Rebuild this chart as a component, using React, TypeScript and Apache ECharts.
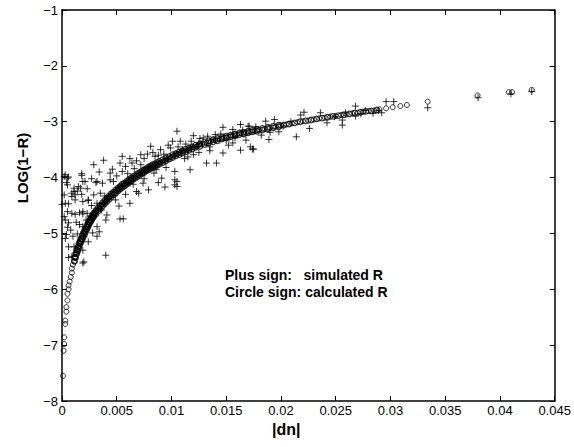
import React, { useEffect, useRef } from "react";
import * as echarts from "echarts";

const xTicks = { min: 0, max: 0.045, interval: 0.005 };
const yTicks = { min: -8, max: -1, interval: 1 };
const xLabel = "|dn|";
const yLabel = "LOG(1\u2212R)";
const noteLines = ["Plus sign:   simulated R", "Circle sign: calculated R"];

// calculated R (circles): [|dn|, LOG(1-R)]
const calculated: [number, number][] = [
  [0.0001, -7.55], [0.00015, -7.1], [0.0002, -6.98], [0.0002, -6.86], [0.0003, -6.56], [0.0003, -6.62],
  [0.0004, -6.4], [0.0004, -6.32], [0.0005, -6.2], [0.0005, -6.08], [0.0006, -6.0], [0.0006, -5.93],
  [0.0007, -5.86], [0.0008, -5.78], [0.0009, -5.7], [0.0009, -5.63], [0.001, -5.56], [0.0011, -5.5],
  [0.0012, -5.42], [0.0013, -5.36], [0.0014, -5.3], [0.0015, -5.24], [0.0016, -5.18], [0.0017, -5.14],
  [0.0018, -5.1], [0.0019, -5.05], [0.002, -5.0], [0.0021, -4.96], [0.0022, -4.92], [0.0023, -4.88],
  [0.0024, -4.84], [0.0025, -4.8], [0.0026, -4.77], [0.0027, -4.73], [0.0028, -4.7], [0.0029, -4.67],
  [0.003, -4.64], [0.0032, -4.59], [0.0034, -4.55], [0.0036, -4.5], [0.0038, -4.46], [0.004, -4.42],
  [0.0042, -4.38], [0.0044, -4.34], [0.0046, -4.3], [0.0048, -4.27], [0.005, -4.23], [0.0052, -4.2],
  [0.0054, -4.17], [0.0056, -4.14], [0.0058, -4.11], [0.006, -4.08], [0.0062, -4.05], [0.0064, -4.02],
  [0.0066, -4.0], [0.0068, -3.97], [0.007, -3.95], [0.0072, -3.92], [0.0074, -3.9], [0.0076, -3.87],
  [0.0078, -3.85], [0.008, -3.83], [0.0082, -3.81], [0.0084, -3.79], [0.0086, -3.77], [0.0088, -3.75],
  [0.009, -3.73], [0.0093, -3.7], [0.0096, -3.67], [0.0099, -3.64], [0.0102, -3.61], [0.0105, -3.58],
  [0.0108, -3.56], [0.0111, -3.53], [0.0114, -3.51], [0.0117, -3.48], [0.012, -3.46], [0.0124, -3.43],
  [0.0128, -3.4], [0.0132, -3.38], [0.0136, -3.35], [0.014, -3.33], [0.0144, -3.31], [0.0148, -3.29],
  [0.0152, -3.27], [0.0156, -3.25], [0.016, -3.23], [0.0164, -3.21], [0.0168, -3.2], [0.0172, -3.18],
  [0.0176, -3.16], [0.018, -3.15], [0.0185, -3.13], [0.019, -3.11], [0.0195, -3.09], [0.02, -3.07],
  [0.0205, -3.05], [0.021, -3.03], [0.0215, -3.01], [0.022, -2.99], [0.0225, -2.98], [0.023, -2.96],
  [0.0235, -2.94], [0.024, -2.93], [0.0245, -2.91], [0.025, -2.9], [0.0255, -2.88], [0.026, -2.87],
  [0.0265, -2.85], [0.027, -2.84], [0.0275, -2.82], [0.028, -2.81], [0.0285, -2.8], [0.029, -2.78],
  [0.0296, -2.76], [0.0302, -2.74], [0.0309, -2.72], [0.0315, -2.7], [0.0334, -2.64], [0.03795, -2.53],
  [0.0408, -2.47], [0.0411, -2.47], [0.0429, -2.43],
];

// calculated R, the dense part of the band (upper and lower edges)
const calculatedBand: [number, number][] = [
  [0.00115, -5.43], [0.00115, -5.5], [0.00125, -5.36], [0.00125, -5.43], [0.00135, -5.3], [0.00135, -5.36],
  [0.00145, -5.24], [0.00145, -5.31], [0.00155, -5.18], [0.00155, -5.25], [0.00165, -5.13], [0.00165, -5.19],
  [0.00175, -5.09], [0.00175, -5.15], [0.00185, -5.04], [0.00185, -5.11], [0.00195, -4.99], [0.00195, -5.06],
  [0.00205, -4.95], [0.00205, -5.02], [0.00215, -4.91], [0.00215, -4.97], [0.00225, -4.87], [0.00225, -4.93],
  [0.00235, -4.83], [0.00235, -4.89], [0.00245, -4.79], [0.00245, -4.85], [0.00255, -4.76], [0.00255, -4.81],
  [0.00265, -4.72], [0.00265, -4.78], [0.00275, -4.69], [0.00275, -4.74], [0.00285, -4.66], [0.00285, -4.71],
  [0.00295, -4.63], [0.00295, -4.68], [0.0031, -4.59], [0.0031, -4.65], [0.0033, -4.54], [0.0033, -4.6],
  [0.0035, -4.5], [0.0035, -4.56], [0.0037, -4.45], [0.0037, -4.51], [0.0039, -4.41], [0.0039, -4.47],
  [0.0041, -4.37], [0.0041, -4.43], [0.0043, -4.33], [0.0043, -4.39], [0.0045, -4.29], [0.0045, -4.35],
  [0.0047, -4.26], [0.0047, -4.31], [0.0049, -4.22], [0.0049, -4.28], [0.0051, -4.19], [0.0051, -4.24],
  [0.0053, -4.16], [0.0053, -4.21], [0.0055, -4.12], [0.0055, -4.18], [0.0057, -4.1], [0.0057, -4.15],
  [0.0059, -4.07], [0.0059, -4.12], [0.0061, -4.04], [0.0061, -4.09], [0.0063, -4.01], [0.0063, -4.06],
  [0.0065, -3.98], [0.0065, -4.03], [0.0067, -3.96], [0.0067, -4.01], [0.0069, -3.93], [0.0069, -3.98],
  [0.0071, -3.91], [0.0071, -3.96], [0.0073, -3.88], [0.0073, -3.93], [0.0075, -3.86], [0.0075, -3.91],
  [0.0077, -3.84], [0.0077, -3.88], [0.0079, -3.81], [0.0079, -3.86], [0.0081, -3.79], [0.0081, -3.84],
  [0.0083, -3.77], [0.0083, -3.82], [0.0085, -3.75], [0.0085, -3.8], [0.0087, -3.73], [0.0087, -3.78],
  [0.0089, -3.71], [0.0089, -3.76], [0.0092, -3.68], [0.0092, -3.73], [0.0095, -3.65], [0.0095, -3.7],
  [0.0098, -3.62], [0.0098, -3.67], [0.0101, -3.59], [0.0101, -3.64], [0.0104, -3.57], [0.0104, -3.61],
  [0.0107, -3.54], [0.0107, -3.59], [0.011, -3.52], [0.011, -3.56], [0.0113, -3.49], [0.0113, -3.54],
  [0.0116, -3.47], [0.0116, -3.51], [0.0119, -3.45], [0.0119, -3.49], [0.0122, -3.42], [0.0122, -3.46],
  [0.0126, -3.4], [0.0126, -3.44], [0.013, -3.37], [0.013, -3.41], [0.0134, -3.34], [0.0134, -3.38],
  [0.0138, -3.32], [0.0138, -3.36], [0.0142, -3.3], [0.0142, -3.34], [0.0146, -3.28], [0.0146, -3.31],
  [0.015, -3.26], [0.015, -3.29], [0.0154, -3.24], [0.0154, -3.27], [0.0158, -3.22], [0.0158, -3.25],
  [0.0162, -3.2], [0.0162, -3.23], [0.0166, -3.19], [0.0166, -3.22], [0.017, -3.17], [0.017, -3.2],
  [0.0174, -3.15], [0.0174, -3.18], [0.0178, -3.14], [0.0178, -3.17], [0.0183, -3.12], [0.0183, -3.15],
  [0.0188, -3.1], [0.0188, -3.13], [0.0193, -3.08], [0.0193, -3.11], [0.0198, -3.06], [0.0198, -3.09],
  [0.02025, -3.06], [0.02075, -3.04], [0.02125, -3.02], [0.02175, -3.0], [0.02225, -2.985], [0.02275, -2.97],
  [0.02325, -2.95], [0.02375, -2.935], [0.02425, -2.92], [0.02475, -2.905], [0.02525, -2.89], [0.02575, -2.875],
  [0.02625, -2.86], [0.02675, -2.845], [0.02725, -2.83], [0.02775, -2.815], [0.02825, -2.805], [0.02875, -2.79],
];

// simulated R (plus signs): [|dn|, LOG(1-R)]
const simulated: [number, number][] = [
  [0.0, -4.48], [0.0002, -3.98], [0.0003, -3.95], [0.0005, -4.01], [0.0006, -3.99], [0.0004, -4.09],
  [0.0005, -4.13], [0.0018, -3.93], [0.0018, -3.96], [0.0011, -4.19], [0.0014, -4.24], [0.0017, -4.19],
  [0.0018, -4.3], [0.0009, -4.28], [0.0012, -4.4], [0.0019, -4.43], [0.0024, -4.4], [0.0003, -4.46],
  [0.0006, -4.47], [0.0005, -4.61], [0.0009, -4.64], [0.0012, -4.66], [0.0016, -4.63], [0.0019, -4.61],
  [0.0002, -4.7], [0.0003, -4.76], [0.0006, -4.81], [0.0005, -4.89], [0.0008, -4.94], [0.0013, -4.8],
  [0.0016, -4.84], [0.0022, -4.76], [0.0004, -5.02], [0.001, -5.05], [0.0014, -5.01], [0.002, -5.05],
  [0.0003, -5.09], [0.0006, -5.24], [0.0011, -5.24], [0.0006, -5.43], [0.0009, -5.41], [0.0019, -5.53],
  [0.0012, -4.31], [0.0002, -4.31], [0.0011, -4.25], [0.0009, -4.34], [0.0015, -4.16], [0.0021, -4.07],
  [0.0032, -4.07], [0.0019, -4.07], [0.0031, -4.09], [0.0037, -4.1], [0.0047, -4.07], [0.0062, -4.1],
  [0.0029, -4.31], [0.0035, -4.28], [0.0039, -4.33], [0.0024, -4.41], [0.0032, -4.46], [0.0019, -4.65],
  [0.0023, -4.64], [0.0026, -4.69], [0.0041, -4.67], [0.004, -4.76], [0.0052, -4.51], [0.0062, -4.46],
  [0.0053, -4.74], [0.0056, -4.74], [0.0019, -4.88], [0.0032, -4.88], [0.0028, -4.99], [0.0032, -5.05],
  [0.0024, -5.15], [0.0019, -5.3], [0.004, -5.39], [0.002, -5.51], [0.0068, -4.25], [0.0079, -4.22],
  [0.0094, -4.17], [0.0105, -4.16], [0.0105, -4.07], [0.0088, -4.09], [0.0065, -4.12], [0.0074, -4.1],
  [0.0103, -4.13], [0.0034, -4.97], [0.0105, -3.17], [0.0147, -3.1], [0.0163, -3.05], [0.017, -3.08],
  [0.0156, -3.14], [0.012, -3.25], [0.0129, -3.29], [0.014, -3.23], [0.0101, -3.35], [0.0108, -3.35],
  [0.0099, -3.47], [0.009, -3.5], [0.0081, -3.44], [0.0072, -3.59], [0.0055, -3.62], [0.0053, -3.74],
  [0.0038, -3.69], [0.0029, -3.77], [0.0055, -3.89], [0.0064, -3.74], [0.0072, -3.77], [0.0079, -3.83],
  [0.0103, -3.89], [0.0103, -4.04], [0.0117, -3.86], [0.0132, -3.74], [0.0141, -3.74], [0.0147, -3.56],
  [0.0163, -3.51], [0.0175, -3.49], [0.012, -3.59], [0.0156, -3.38], [0.0138, -3.32], [0.0044, -3.92],
  [0.0044, -4.04], [0.007, -4.28], [0.0091, -4.01], [0.0086, -3.86], [0.0096, -3.68], [0.0123, -3.44],
  [0.0125, -3.38], [0.0135, -3.45], [0.0145, -3.22], [0.015, -3.34], [0.0158, -3.29], [0.0165, -3.15],
  [0.011, -3.5], [0.0115, -3.63], [0.0085, -3.62], [0.0078, -3.58], [0.0066, -3.84], [0.006, -3.93],
  [0.0171, -3.08], [0.019, -3.19], [0.0202, -3.08], [0.0209, -3.0], [0.0174, -3.49], [0.0172, -3.45],
  [0.0177, -3.09], [0.0189, -3.32], [0.0194, -2.96], [0.0186, -2.99], [0.0214, -3.27], [0.0218, -2.88],
  [0.0221, -2.83], [0.0226, -3.12], [0.0236, -2.84], [0.0242, -3.02], [0.0249, -2.91], [0.0256, -2.97],
  [0.0256, -3.06], [0.0259, -2.84], [0.0268, -2.72], [0.0268, -2.9], [0.0273, -2.86], [0.0277, -2.8],
  [0.0284, -2.85], [0.0289, -2.8], [0.0292, -2.84], [0.0296, -2.64], [0.0303, -2.64], [0.0334, -2.75],
  [0.038, -2.57], [0.041, -2.5], [0.0429, -2.46],
  [0.0058, -3.8], [0.0062, -3.66], [0.0068, -3.7], [0.0075, -3.66], [0.0083, -3.55], [0.0088, -3.6],
  [0.0093, -3.58], [0.0097, -3.42], [0.0106, -3.45], [0.0113, -3.4], [0.0118, -3.35], [0.0126, -3.3],
  [0.0133, -3.26], [0.0046, -3.85], [0.005, -3.97], [0.0034, -3.9], [0.0027, -4.02], [0.0023, -4.2],
  [0.0027, -4.5], [0.0036, -4.58], [0.0049, -4.4], [0.0058, -4.3], [0.0075, -4.02], [0.0084, -3.92],
  [0.0095, -3.82], [0.0112, -3.66], [0.0125, -3.55], [0.0135, -3.52], [0.0152, -3.42], [0.0168, -3.33],
  [0.0182, -3.24], [0.0198, -3.18],
];

const FONT = "Arial, 'Liberation Sans', Helvetica, sans-serif";

export default function App() {
  const ref = useRef<HTMLDivElement>(null);
  useEffect(() => {
    if (!ref.current) return;
    const chart = echarts.init(ref.current, undefined, { renderer: "svg" });
    const axisCommon = {
      axisLine: { show: true, onZero: false, lineStyle: { color: "#000", width: 1.5 } },
      axisTick: { show: true, inside: true, length: 5, lineStyle: { color: "#000", width: 1 } },
      splitLine: { show: false },
    };
    const fmtX = (v: number) => String(+v.toFixed(3));
    const fmtY = (v: number) => String(v).replace("-", "\u2212");
    const circleStyle = { color: "rgba(0,0,0,0)", borderColor: "#000", borderWidth: 1 };
    chart.setOption({
      animation: false,
      backgroundColor: "#fff",
      grid: { left: 62, right: 18, top: 10, bottom: 46, containLabel: false },
      xAxis: [
        {
          type: "value", position: "bottom", ...xTicks, ...axisCommon,
          axisLabel: { color: "#000", fontSize: 13, fontFamily: FONT, margin: 3, formatter: fmtX },
        },
        {
          type: "value", position: "top", ...xTicks, ...axisCommon,
          axisLabel: { show: false },
        },
      ],
      yAxis: [
        {
          type: "value", position: "left", ...yTicks, ...axisCommon,
          axisLabel: { color: "#000", fontSize: 13, fontFamily: FONT, margin: 4, formatter: fmtY },
        },
        {
          type: "value", position: "right", ...yTicks, ...axisCommon,
          axisLabel: { show: false },
        },
      ],
      series: [
        {
          type: "scatter", name: "calculated R band", xAxisIndex: 0, yAxisIndex: 0,
          data: calculatedBand, symbol: "circle", symbolSize: 5.5,
          itemStyle: { ...circleStyle, borderWidth: 1.3 },
        },
        {
          type: "scatter", name: "calculated R", xAxisIndex: 0, yAxisIndex: 0,
          data: calculated, symbol: "circle", symbolSize: 5, itemStyle: circleStyle,
        },
        {
          type: "scatter", name: "simulated R", xAxisIndex: 0, yAxisIndex: 0,
          data: simulated,
          symbol: "path://M0,5L10,5M5,0L5,10",
          symbolSize: 7,
          itemStyle: { color: "rgba(0,0,0,0)", borderColor: "#000", borderWidth: 1 },
        },
      ],
      graphic: [
        {
          type: "text", left: 272, top: 421,
          style: { text: xLabel, font: `bold 16px ${FONT}`, fill: "#000" },
        },
        {
          type: "text", x: 22, y: 168, rotation: Math.PI / 2,
          style: { text: yLabel, font: `bold 15px ${FONT}`, fill: "#000", align: "center", verticalAlign: "middle" },
        },
        {
          type: "text", left: 225, top: 268,
          style: { text: noteLines[0], font: `bold 14px ${FONT}`, fill: "#000", whiteSpace: "pre" },
        },
        {
          type: "text", left: 225, top: 285,
          style: { text: noteLines[1], font: `bold 14px ${FONT}`, fill: "#000" },
        },
      ],
    });
    return () => chart.dispose();
  }, []);
  return <div ref={ref} style={{ width: 574, height: 447, position: "absolute", left: 0, top: 0 }} />;
}
